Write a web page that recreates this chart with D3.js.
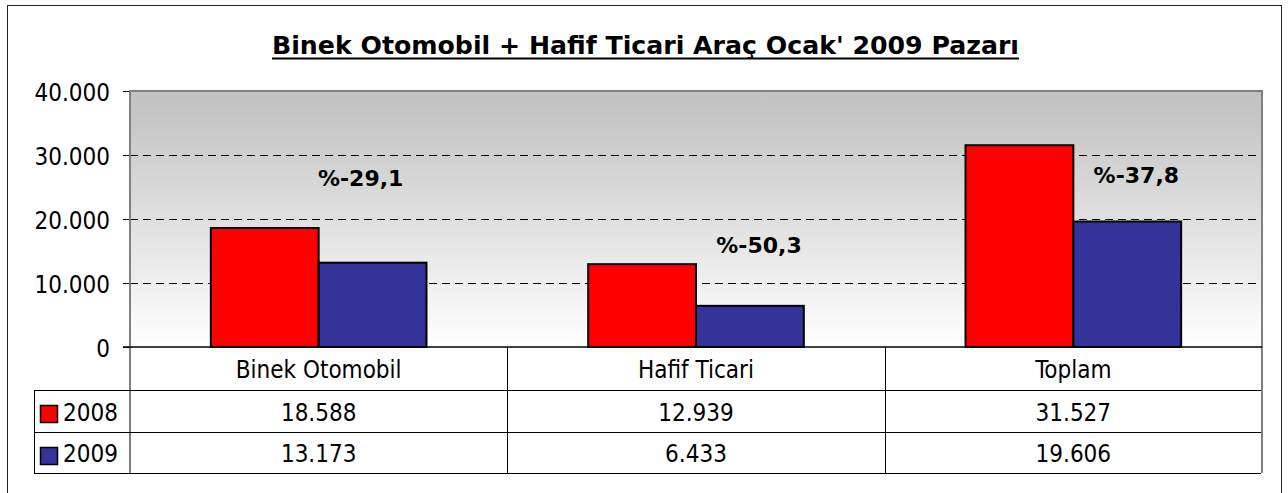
<!DOCTYPE html>
<html>
<head>
<meta charset="utf-8">
<script src="https://cdn.jsdelivr.net/npm/d3@7"></script>
<style>
  body { margin: 0; background: #fff; }
  svg text { font-family: "DejaVu Sans Condensed", "DejaVu Sans", sans-serif; font-stretch: condensed; fill: #000; }
  svg text.wide { font-family: "DejaVu Sans", sans-serif; font-stretch: normal; font-weight: bold; }
</style>
</head>
<body>
<svg class="chart"></svg>
<script>
// Chart data
var categories = ["Binek Otomobil", "Hafif Ticari", "Toplam"];
var years = ["2008", "2009"];
var values2008 = [18588, 12939, 31527];
var values2009 = [13173, 6433, 19606];
var yTicks = [0, 10000, 20000, 30000, 40000];
var colors = ["#ff0000", "#333399"];

// Where the percentage boxes sit: value height and offset from category centre
var pctY = [25150, 14650, 25580];
var pctDx = [42, 63, 63];

var W = 1288, H = 493;
var plot = {left: 130, right: 1262, top: 91, bottom: 347};
var rows = [347, 390, 432, 473];
var tableLeft = 34;

// Turkish number format: 18.588 and 29,1
var tr = d3.formatLocale({decimal: ",", thousands: ".", grouping: [3], currency: ["", ""], minus: "-"});
var fmt = tr.format(",d");
var fmt1 = tr.format(".1f");

var svg = d3.select(".chart")
    .attr("width", W)
    .attr("height", H);

// Outer chart border
svg.append("rect")
    .attr("x", 7.5).attr("y", 5.5)
    .attr("width", 1274).attr("height", 520)
    .attr("fill", "#fff")
    .attr("stroke", "#222")
    .attr("stroke-width", 1);

// Scales
var x = d3.scaleBand()
    .domain(categories)
    .range([plot.left, plot.right]);

var x1 = d3.scaleBand()
    .domain(years)
    .range([0, x.bandwidth()])
    .paddingOuter(0.75);

var y = d3.scaleLinear()
    .domain([0, 40000])
    .range([plot.bottom, plot.top]);

// Plot area background gradient
var grad = svg.append("defs").append("linearGradient")
    .attr("id", "bg")
    .attr("x1", 0).attr("y1", 0).attr("x2", 0).attr("y2", 1);
grad.append("stop").attr("offset", "0%").attr("stop-color", "#c0c0c0");
grad.append("stop").attr("offset", "100%").attr("stop-color", "#ffffff");

svg.append("rect")
    .attr("x", plot.left).attr("y", plot.top)
    .attr("width", plot.right - plot.left)
    .attr("height", plot.bottom - plot.top)
    .attr("fill", "url(#bg)");

// Dashed gridlines
svg.selectAll(".grid")
    .data(yTicks.filter(function(d) { return d > 0 && d < 40000; }))
    .enter().append("line")
    .attr("class", "grid")
    .attr("x1", plot.left).attr("x2", plot.right)
    .attr("y1", function(d) { return Math.round(y(d)) + 0.5; })
    .attr("y2", function(d) { return Math.round(y(d)) + 0.5; })
    .attr("stroke", "#000")
    .attr("stroke-width", 1)
    .attr("stroke-dasharray", "8,5");

// Title
var title = svg.append("text")
    .attr("class", "wide")
    .attr("x", 645.5)
    .attr("y", 54)
    .attr("text-anchor", "middle")
    .attr("textLength", 747)
    .attr("lengthAdjust", "spacingAndGlyphs")
    .style("font-size", "24px")
    .text("Binek Otomobil + Hafif Ticari Araç Ocak' 2009 Pazarı");
svg.append("line")
    .attr("x1", 645.5 - 747 / 2).attr("x2", 645.5 + 747 / 2)
    .attr("y1", 58.5).attr("y2", 58.5)
    .attr("stroke", "#000")
    .attr("stroke-width", 2);

// Bars
var series = [values2008, values2009];
series.forEach(function(vals, si) {
  svg.selectAll(".bar" + si)
    .data(vals)
    .enter().append("rect")
    .attr("class", "bar" + si)
    .attr("x", function(d, i) { return x(categories[i]) + x1(years[si]); })
    .attr("y", function(d) { return y(d); })
    .attr("width", x1.bandwidth())
    .attr("height", function(d) { return plot.bottom - y(d); })
    .attr("fill", colors[si])
    .attr("stroke", "#000")
    .attr("stroke-width", 2);
});

// Percentage change labels
svg.selectAll(".pct")
    .data(categories)
    .enter().append("text")
    .attr("class", "pct wide")
    .attr("x", function(d, i) { return x(d) + x.bandwidth() / 2 + pctDx[i]; })
    .attr("y", function(d, i) { return y(pctY[i]); })
    .attr("text-anchor", "middle")
    .style("font-size", "22px")
    .text(function(d, i) {
      return "%" + fmt1((values2009[i] - values2008[i]) / values2008[i] * 100);
    });

// Y axis
var yAxis = d3.axisLeft(y)
    .tickValues(yTicks)
    .tickSize(7)
    .tickPadding(13)
    .tickFormat(fmt);

var ya = svg.append("g")
    .attr("class", "y axis")
    .attr("transform", "translate(" + plot.left + ",0)")
    .call(yAxis);
ya.select(".domain").remove();
ya.selectAll("line").attr("stroke", "#000");
ya.selectAll("text")
    .attr("dy", "0.4em")
    .style("font-size", "24px")
    .attr("font-family", null);

// Plot border (gray) and baseline
svg.append("path")
    .attr("d", "M" + plot.left + "," + rows[3] + "V" + plot.top + "H" + plot.right + "V" + rows[3])
    .attr("fill", "none")
    .attr("stroke", "#808080")
    .attr("stroke-width", 2);
svg.append("line")
    .attr("x1", plot.left - 7).attr("x2", plot.right)
    .attr("y1", plot.bottom).attr("y2", plot.bottom)
    .attr("stroke", "#000")
    .attr("stroke-width", 1.5);

// Data table lines
[rows[1], rows[2], rows[3]].forEach(function(ry) {
  svg.append("line")
    .attr("x1", tableLeft).attr("x2", plot.right - 1)
    .attr("y1", ry + 0.5).attr("y2", ry + 0.5)
    .attr("stroke", "#000");
});
svg.append("line")
    .attr("x1", tableLeft + 0.5).attr("x2", tableLeft + 0.5)
    .attr("y1", rows[1]).attr("y2", rows[3])
    .attr("stroke", "#000");
svg.selectAll(".sep")
    .data(categories.slice(1))
    .enter().append("line")
    .attr("class", "sep")
    .attr("x1", function(d) { return Math.round(x(d)) + 0.5; })
    .attr("x2", function(d) { return Math.round(x(d)) + 0.5; })
    .attr("y1", rows[0]).attr("y2", rows[3])
    .attr("stroke", "#000");

// Category names
svg.selectAll(".cat")
    .data(categories)
    .enter().append("text")
    .attr("class", "cat")
    .attr("x", function(d) { return x(d) + x.bandwidth() / 2; })
    .attr("y", (rows[0] + rows[1]) / 2)
    .attr("dy", "0.4em")
    .attr("text-anchor", "middle")
    .style("font-size", "24px")
    .text(function(d) { return d; });

// Value rows with legend keys
series.forEach(function(vals, si) {
  var top = rows[si + 1], bot = rows[si + 2];
  svg.append("rect")
    .attr("x", 40.5).attr("y", top + 15.5)
    .attr("width", 17).attr("height", 17)
    .attr("fill", colors[si])
    .attr("stroke", "#000")
    .attr("stroke-width", 1.5);
  svg.append("text")
    .attr("x", 63)
    .attr("y", (top + bot) / 2)
    .attr("dy", "0.4em")
    .style("font-size", "24px")
    .text(years[si]);
  svg.selectAll(".val" + si)
    .data(vals)
    .enter().append("text")
    .attr("class", "val" + si)
    .attr("x", function(d, i) { return x(categories[i]) + x.bandwidth() / 2; })
    .attr("y", (top + bot) / 2)
    .attr("dy", "0.4em")
    .attr("text-anchor", "middle")
    .style("font-size", "24px")
    .text(function(d) { return fmt(d); });
});
</script>
</body>
</html>
